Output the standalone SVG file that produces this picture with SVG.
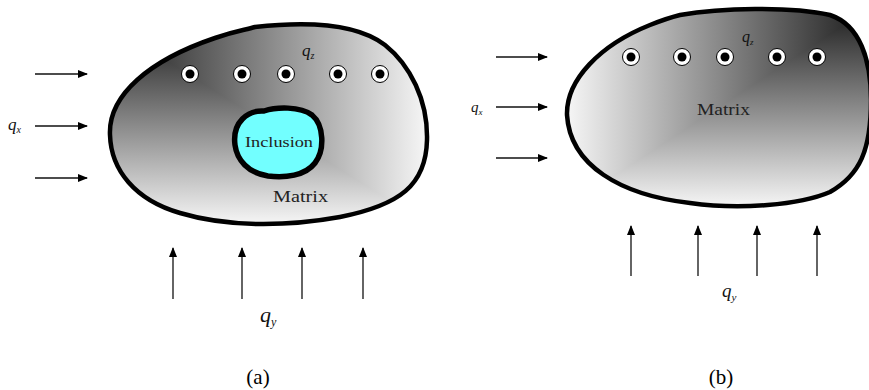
<svg xmlns="http://www.w3.org/2000/svg" width="869" height="390" viewBox="0 0 869 390">
  <style>
    .outline { fill: none; stroke: #000; stroke-width: 4.5; stroke-linejoin: round; }
    .arrow { stroke: #111; stroke-width: 1.3; fill: none; marker-end: url(#head); }
    .q { font-style: italic; fill: #111; }
    .name { fill: #222; }
    .cap { fill: #000; font-size: 21px; text-anchor: middle; }
    .ring { fill: #fff; stroke: #000; stroke-width: 1; }
    .core { fill: #000; }
  </style>
  <defs>
    <marker id="head" markerUnits="userSpaceOnUse" markerWidth="10" markerHeight="8" refX="9" refY="4" orient="auto">
      <path d="M0,0 L10,4 L0,8 Z" fill="#000"/>
    </marker>
    <!-- corner shading for (a): dark at top-left -->
    <linearGradient id="aH" gradientUnits="userSpaceOnUse" x1="110" y1="0" x2="427" y2="0">
      <stop offset="0" stop-color="#1c1c1c"/>
      <stop offset="1" stop-color="#f6f6f6"/>
    </linearGradient>
    <linearGradient id="aV" gradientUnits="userSpaceOnUse" x1="0" y1="25" x2="0" y2="224">
      <stop offset="0" stop-color="#1c1c1c"/>
      <stop offset="1" stop-color="#f6f6f6"/>
    </linearGradient>
    <!-- corner shading for (b): dark at top-right -->
    <linearGradient id="bH" gradientUnits="userSpaceOnUse" x1="870" y1="0" x2="567" y2="0">
      <stop offset="0" stop-color="#1c1c1c"/>
      <stop offset="1" stop-color="#f6f6f6"/>
    </linearGradient>
    <linearGradient id="bV" gradientUnits="userSpaceOnUse" x1="0" y1="8" x2="0" y2="207">
      <stop offset="0" stop-color="#1c1c1c"/>
      <stop offset="1" stop-color="#f6f6f6"/>
    </linearGradient>
    <path id="blobA" d="M110,135 C108,95 150,60 215,38 C235,31 245,30 255,27 C300,22 355,22 385,45 C410,65 428,100 427,140 C426,185 400,205 340,217 C290,226 230,228 180,213 C135,200 111,170 110,135 Z"/>
    <path id="blobB" d="M567,115 C566,80 600,45 650,25 C665,19 672,17 680,15 C720,8 790,6 830,15 C860,25 871,60 871,100 C871,150 860,175 830,192 C800,205 740,210 690,203 C620,195 570,165 567,115 Z"/>
    <clipPath id="clipA"><use href="#blobA"/></clipPath>
    <clipPath id="clipB"><use href="#blobB"/></clipPath>
  </defs>

  <!-- (a) matrix with inclusion -->
  <g id="matrix-a">
    <g clip-path="url(#clipA)">
      <rect x="100" y="15" width="340" height="220" fill="url(#aV)"/>
      <polygon points="110,25 427,25 427,224" fill="url(#aH)"/>
    </g>
    <use href="#blobA" class="outline"/>
    <text class="name" font-family="Liberation Serif, Times New Roman, serif" x="273" y="202" font-size="17" textLength="55" lengthAdjust="spacingAndGlyphs">Matrix</text>
  </g>
  <g id="inclusion-a">
    <path d="M235,145 C232,122 248,110 264,111 C276,107 300,106 312,115 C324,125 325,150 315,163 C305,176 285,178 268,176 C248,173 237,160 235,145 Z" fill="#72ffff" stroke="#000" stroke-width="5.5"/>
    <text class="name" font-family="Liberation Serif, Times New Roman, serif" x="245" y="147" font-size="15" textLength="68" lengthAdjust="spacingAndGlyphs">Inclusion</text>
  </g>
  <g id="qz-a">
    <circle class="ring" cx="190" cy="74" r="8.5"/><circle class="core" cx="190" cy="74" r="4.5"/>
    <circle class="ring" cx="242" cy="74" r="8.5"/><circle class="core" cx="242" cy="74" r="4.5"/>
    <circle class="ring" cx="286" cy="74" r="8.5"/><circle class="core" cx="286" cy="74" r="4.5"/>
    <circle class="ring" cx="338" cy="74" r="8.5"/><circle class="core" cx="338" cy="74" r="4.5"/>
    <circle class="ring" cx="380" cy="74" r="8.5"/><circle class="core" cx="380" cy="74" r="4.5"/>
    <text class="q" font-family="Liberation Serif, Times New Roman, serif" x="302" y="56" font-size="17">q<tspan font-size="10" dy="3">z</tspan></text>
  </g>

  <!-- (b) plain matrix -->
  <g id="matrix-b">
    <g clip-path="url(#clipB)">
      <rect x="557" y="0" width="320" height="220" fill="url(#bV)"/>
      <polygon points="567,8 871,8 567,207" fill="url(#bH)"/>
    </g>
    <use href="#blobB" class="outline"/>
    <text class="name" font-family="Liberation Serif, Times New Roman, serif" x="697" y="115" font-size="16" textLength="53" lengthAdjust="spacingAndGlyphs">Matrix</text>
  </g>
  <g id="qz-b">
    <circle class="ring" cx="631" cy="57" r="8.5"/><circle class="core" cx="631" cy="57" r="4.5"/>
    <circle class="ring" cx="682" cy="57" r="8.5"/><circle class="core" cx="682" cy="57" r="4.5"/>
    <circle class="ring" cx="725" cy="57" r="8.5"/><circle class="core" cx="725" cy="57" r="4.5"/>
    <circle class="ring" cx="777" cy="57" r="8.5"/><circle class="core" cx="777" cy="57" r="4.5"/>
    <circle class="ring" cx="817" cy="57" r="8.5"/><circle class="core" cx="817" cy="57" r="4.5"/>
    <text class="q" font-family="Liberation Serif, Times New Roman, serif" x="742" y="42" font-size="16">q<tspan font-size="9" dy="3">z</tspan></text>
  </g>

  <!-- load arrows -->
  <g id="connectors">
    <line class="arrow" x1="35" y1="74" x2="87" y2="74"/>
    <line class="arrow" x1="35" y1="126" x2="87" y2="126"/>
    <line class="arrow" x1="35" y1="178" x2="87" y2="178"/>
    <line class="arrow" x1="173" y1="299" x2="173" y2="248"/>
    <line class="arrow" x1="242" y1="299" x2="242" y2="248"/>
    <line class="arrow" x1="302" y1="299" x2="302" y2="248"/>
    <line class="arrow" x1="363" y1="299" x2="363" y2="248"/>

    <line class="arrow" x1="496" y1="57" x2="547" y2="57"/>
    <line class="arrow" x1="496" y1="107" x2="547" y2="107"/>
    <line class="arrow" x1="496" y1="158" x2="547" y2="158"/>
    <line class="arrow" x1="631" y1="276" x2="631" y2="226"/>
    <line class="arrow" x1="698" y1="276" x2="698" y2="226"/>
    <line class="arrow" x1="757" y1="276" x2="757" y2="226"/>
    <line class="arrow" x1="817" y1="276" x2="817" y2="226"/>
  </g>

  <g id="labels" font-family="Liberation Serif, Times New Roman, serif">
    <text class="q" x="8" y="130" font-size="17">q<tspan font-size="10" dy="3">x</tspan></text>
    <text class="q" x="260" y="322" font-size="22">q<tspan font-size="12" dy="4">y</tspan></text>
    <text class="q" x="471" y="112" font-size="15">q<tspan font-size="9" dy="3">x</tspan></text>
    <text class="q" x="722" y="297" font-size="19">q<tspan font-size="11" dy="4">y</tspan></text>
    <text class="cap" x="258" y="384">(a)</text>
    <text class="cap" x="721" y="384">(b)</text>
  </g>
</svg>
